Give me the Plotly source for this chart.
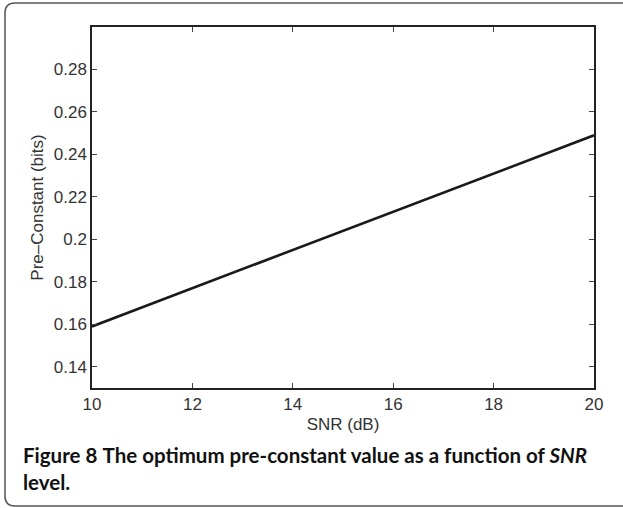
import plotly.graph_objects as go

snr_db = [10, 12, 14, 16, 18, 20]
pre_constant = [0.159, 0.177, 0.195, 0.213, 0.231, 0.249]
x_ticks = [10, 12, 14, 16, 18, 20]
y_ticks = [0.14, 0.16, 0.18, 0.20, 0.22, 0.24, 0.26, 0.28]
y_tick_text = ["0.14", "0.16", "0.18", "0.2", "0.22", "0.24", "0.26", "0.28"]

W, H = 623, 508
L, R, T, B = 92, 29, 27, 120
pw, ph = W - L - R, H - T - B

def px(x):
    return (x - L) / pw

def py(y):
    return (H - B - y) / ph

fig = go.Figure()
fig.add_trace(go.Scatter(x=snr_db, y=pre_constant, mode="lines",
                         line=dict(color="#1a1a1a", width=2.6), showlegend=False))

axis_font = dict(family="Liberation Sans, Arial, sans-serif", size=17, color="#333333")
common = dict(showline=True, linecolor="#222222", linewidth=1.5, mirror="ticks",
              ticks="inside", ticklen=5, tickcolor="#444444", tickwidth=1,
              showgrid=False, zeroline=False, tickfont=axis_font)
fig.update_xaxes(range=[10, 20], tickvals=x_ticks,
                 title=dict(text="SNR (dB)", font=axis_font, standoff=5), **common)
fig.update_yaxes(range=[0.13, 0.30], tickvals=y_ticks, ticktext=y_tick_text,
                 title=dict(text="Pre\u2013Constant (bits)", font=axis_font, standoff=6), **common)

# rounded frame
x0, x1, y0, y1, r = 5, 640, 3, 506, 10
path = (f"M {px(x0+r)},{py(y0)} L {px(x1)},{py(y0)} L {px(x1)},{py(y1)} "
        f"L {px(x0+r)},{py(y1)} Q {px(x0)},{py(y1)} {px(x0)},{py(y1-r)} "
        f"L {px(x0)},{py(y0+r)} Q {px(x0)},{py(y0)} {px(x0+r)},{py(y0)} Z")
fig.add_shape(type="path", path=path, xref="paper", yref="paper",
              line=dict(color="#555555", width=1.5))

fig.add_annotation(
    text="<b>Figure 8</b> <b>The optimum pre-constant value as a function of <i>SNR</i><br>level.</b>",
    xref="paper", yref="paper", x=px(21), y=py(441), xanchor="left", yanchor="top",
    align="left", showarrow=False,
    font=dict(family="Lato, Open Sans, sans-serif", size=20.5, color="#111111"))

fig.update_layout(width=W, height=H, margin=dict(l=L, r=R, t=T, b=B),
                  paper_bgcolor="white", plot_bgcolor="white")
fig.write_html("out.html")
